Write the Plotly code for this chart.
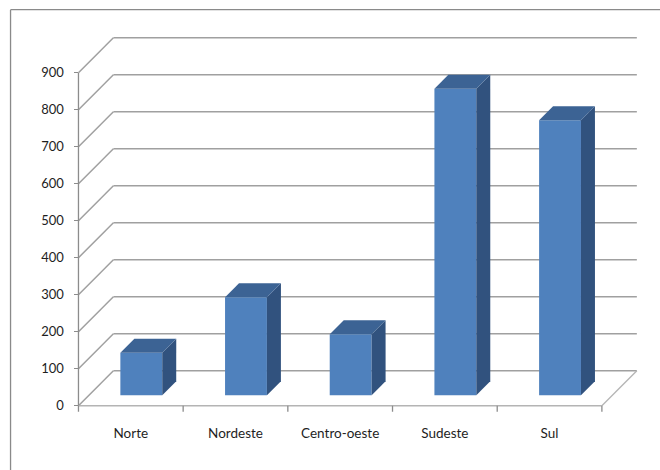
import plotly.graph_objects as go

# ---------------- data ----------------
categories = ["Norte", "Nordeste", "Centro-oeste", "Sudeste", "Sul"]
values = [115, 265, 165, 828, 743]
y_ticks = [0, 100, 200, 300, 400, 500, 600, 700, 800, 900]

# ---------------- geometry / style ----------------
W, H = 660, 470
ORIGIN_PX = (78, 406)          # pixel of (x=0, value=0) on the front plane
PX_PER_X = 104.8               # pixels per category slot
PX_PER_V = 0.37                # pixels per value unit
x_range = [-0.1, 5.45]
y_range = [-25, 1010]
m_l = ORIGIN_PX[0] + x_range[0] * PX_PER_X
m_r = W - (ORIGIN_PX[0] + x_range[1] * PX_PER_X)
m_t = ORIGIN_PX[1] - y_range[1] * PX_PER_V
m_b = H - (ORIGIN_PX[1] - y_range[0] * PX_PER_V)
plot_w = W - m_l - m_r
plot_h = H - m_t - m_b

DEPTH_PX = 35
ddx = DEPTH_PX / PX_PER_X      # depth vector in x units
ddv = DEPTH_PX / PX_PER_V      # depth vector in value units
FRONT_FRAC = 0.3               # bar front face depth position
BAR_DEPTH = 0.4                # bar depth as fraction of full depth
BAR_W = 0.4                    # bar width in category units

FRONT_COLOR = "#4F81BD"
SIDE_COLOR = "#31527E"
TOP_COLOR = "#3C6394"
GRID_COLOR = "#A0A0A0"
FONT = "Lato"
TEXT_COLOR = "#1E1E1E"

n = len(categories)
fig = go.Figure()

# ---------------- walls / gridlines as shapes (below traces) ----------------
shapes = []
def seg(x0, y0, x1, y1, color=GRID_COLOR, width=1.5):
    shapes.append(dict(type="line", xref="x", yref="y", x0=x0, y0=y0, x1=x1, y1=y1,
                       line=dict(color=color, width=width), layer="below"))

for v in y_ticks:
    # back wall horizontal gridline
    seg(ddx, v + ddv, n + ddx, v + ddv)
    # side wall diagonal
    seg(0, v, ddx, v + ddv)
# floor front and right edges
seg(0, 0, n, 0, color="#B4B4B4", width=1.3)
seg(n, 0, n + ddx, ddv, color="#B4B4B4", width=1.3)
# front vertical axis line
seg(0, 0, 0, y_ticks[-1], color="#8C8C8C", width=1.3)
# category boundary ticks
tick_len_v = 6 / PX_PER_V
for i in range(n + 1):
    seg(i, 0, i, -tick_len_v, color="#8C8C8C", width=1.3)

# outer chart border (top and left edges)
def px_to_paper_x(px):
    return (px - m_l) / plot_w
def px_to_paper_y(py):
    return (H - m_b - py) / plot_h
shapes.append(dict(type="line", xref="paper", yref="paper",
                   x0=px_to_paper_x(10), y0=px_to_paper_y(10),
                   x1=px_to_paper_x(W + 5), y1=px_to_paper_y(10),
                   line=dict(color="#8A8A8A", width=1.3)))
shapes.append(dict(type="line", xref="paper", yref="paper",
                   x0=px_to_paper_x(10), y0=px_to_paper_y(10),
                   x1=px_to_paper_x(10), y1=px_to_paper_y(H + 5),
                   line=dict(color="#8A8A8A", width=1.3)))

# ---------------- bars ----------------
base_v = FRONT_FRAC * ddv
front_x = [i + 0.5 + FRONT_FRAC * ddx for i in range(n)]
fig.add_trace(go.Bar(
    x=front_x, y=values, base=[base_v] * n, width=BAR_W,
    marker=dict(color=FRONT_COLOR, line=dict(width=0)),
    hoverinfo="skip", showlegend=False,
))

bdx = BAR_DEPTH * ddx
bdv = BAR_DEPTH * ddv
for xc, v in zip(front_x, values):
    xl, xr = xc - BAR_W / 2, xc + BAR_W / 2
    top = base_v + v
    # side face
    fig.add_trace(go.Scatter(
        x=[xr, xr, xr + bdx, xr + bdx, xr],
        y=[base_v, top, top + bdv, base_v + bdv, base_v],
        fill="toself", fillcolor=SIDE_COLOR, mode="lines",
        line=dict(width=0, color=SIDE_COLOR), hoverinfo="skip", showlegend=False))
    # top face
    fig.add_trace(go.Scatter(
        x=[xl, xr, xr + bdx, xl + bdx, xl],
        y=[top, top, top + bdv, top + bdv, top],
        fill="toself", fillcolor=TOP_COLOR, mode="lines",
        line=dict(width=0, color=TOP_COLOR), hoverinfo="skip", showlegend=False))

# ---------------- layout ----------------
fig.update_layout(
    width=W, height=H,
    margin=dict(l=m_l, r=m_r, t=m_t, b=m_b, pad=0, autoexpand=False),
    paper_bgcolor="white", plot_bgcolor="white",
    font=dict(family=FONT, size=13, color=TEXT_COLOR),
    shapes=shapes,
    showlegend=False,
    xaxis=dict(
        range=x_range, showgrid=False, zeroline=False, showline=False,
        tickmode="array", tickvals=[i + 0.5 for i in range(n)], ticktext=categories,
        ticks="", ticklabelstandoff=8, tickfont=dict(size=13.5, family=FONT),
        fixedrange=True,
    ),
    yaxis=dict(
        range=y_range, showgrid=False, zeroline=False, showline=False,
        anchor="free", position=(ORIGIN_PX[0] - m_l) / plot_w,
        tickmode="array", tickvals=y_ticks,
        ticks="outside", ticklen=4, tickcolor="#8C8C8C", tickwidth=1.3,
        ticklabelstandoff=8, tickfont=dict(size=13, family=FONT),
        fixedrange=True,
    ),
)

fig.write_html("out.html")
